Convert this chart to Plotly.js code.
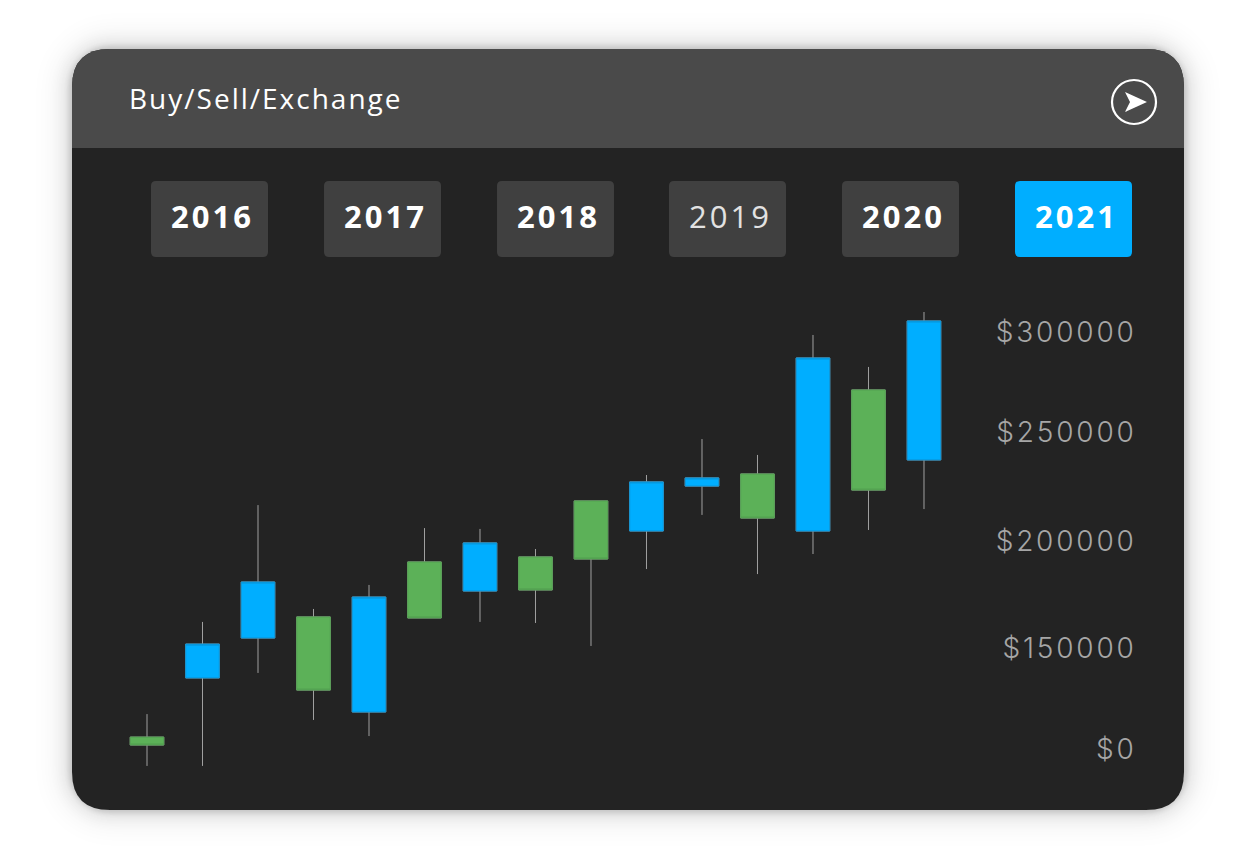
<!DOCTYPE html>
<html>
<head>
<meta charset="utf-8">
<script src="https://cdn.plot.ly/plotly-3.0.1.min.js"></script>
<style>
html,body{margin:0;padding:0;background:#fff;overflow:hidden}
#shadow{position:absolute;left:72px;top:49px;width:1112px;height:761px;border-radius:38px;
  box-shadow:0 0 5px 3px rgba(0,0,0,.12),0 0 16px 7px rgba(0,0,0,.09),0 0 26px 18px rgba(0,0,0,.05)}
#chart{position:absolute;left:0;top:0;width:1257px;height:860px}
.ytick text{letter-spacing:2.8px}
</style>
</head>
<body>
<div id="shadow"></div>
<div id="chart"></div>
<script>
var headerTitle = "Buy/Sell/Exchange";
var years = ["2016","2017","2018","2019","2020","2021"];
var activeYear = "2021";
var plainYear = "2019";

var periods = [0,1,2,3,4,5,6,7,8,9,10,11,12,13,14];
var openValues  = [105700,134000,153100,163200,117700,189500,175600,191900,218700,204300,225800,231600,204300,271800,238300];
var closeValues = [101900,150200,179900,128200,172700,162700,198600,176100,190900,227800,229700,210500,287100,223900,304800];
var highValues  = [116700,160800,216700,167000,178500,205700,205300,195700,218700,231100,248300,240700,298100,282800,309100];
var lowValues   = [ 91900, 91900,136400,113900,106200,162700,160800,160300,149300,186100,212000,183700,193300,204800,214800];

var tickValues = [299500,251500,199500,148000,100000];
var tickLabels = ["$300000","$250000","$200000","$150000","$0"];

var W = 1257, H = 860;
function fx(p){return (p/W).toFixed(5);}
function fy(p){return (1-p/H).toFixed(5);}
function rr(x0,y0,x1,y1,tl,tr,br,bl){
  return "M "+fx(x0+tl)+" "+fy(y0)+" L "+fx(x1-tr)+" "+fy(y0)+" Q "+fx(x1)+" "+fy(y0)+" "+fx(x1)+" "+fy(y0+tr)+
    " L "+fx(x1)+" "+fy(y1-br)+" Q "+fx(x1)+" "+fy(y1)+" "+fx(x1-br)+" "+fy(y1)+
    " L "+fx(x0+bl)+" "+fy(y1)+" Q "+fx(x0)+" "+fy(y1)+" "+fx(x0)+" "+fy(y1-bl)+
    " L "+fx(x0)+" "+fy(y0+tl)+" Q "+fx(x0)+" "+fy(y0)+" "+fx(x0+tl)+" "+fy(y0)+" Z";
}
function panel(path,color,lineColor){
  return {type:"path",xref:"paper",yref:"paper",layer:"below",path:path,fillcolor:color,
    line:{width:lineColor?1:0,color:lineColor||color}};
}
var shapes = [
  panel(rr(72,49,1184,810,38,38,38,38),"#232323"),
  panel(rr(72,49,1184,148,38,38,0,0),"#4a4a4a")
];
var annotations = [{
  xref:"paper",yref:"paper",x:127/W,y:1-98/H,xanchor:"left",yanchor:"middle",showarrow:false,
  text:'<span style="letter-spacing:2px">'+headerTitle+'</span>',
  font:{family:"Open Sans",size:28,color:"#ffffff"}
}];
var buttonLefts = [151,324,497,669,842,1015];
years.forEach(function(y,i){
  var left = buttonLefts[i], active = y===activeYear, plain = y===plainYear;
  shapes.push(panel(rr(left,181,left+117,257,5,5,5,5),active?"#00aeff":"#404040"));
  annotations.push({
    xref:"paper",yref:"paper",x:(left+61.5)/W,y:1-216.5/H,xanchor:"center",yanchor:"middle",showarrow:false,
    text:'<span style="letter-spacing:3px">'+y+'</span>',
    font:{family:"Open Sans",size:31,weight:plain?400:700,color:plain?"#e2e2e2":"#ffffff"}
  });
});
shapes.push({type:"circle",xref:"paper",yref:"paper",x0:fx(1112),x1:fx(1156),y0:fy(124),y1:fy(80),
  line:{color:"#ffffff",width:2.2},fillcolor:"rgba(0,0,0,0)",layer:"above"});
shapes.push({type:"path",xref:"paper",yref:"paper",layer:"above",
  path:"M "+fx(1125)+" "+fy(92)+" L "+fx(1147)+" "+fy(102)+" L "+fx(1125)+" "+fy(112)+" L "+fx(1130)+" "+fy(102)+" Z",
  fillcolor:"#ffffff",line:{width:0}});

var traceWicks = {
  type:"candlestick",name:"range",x:periods,open:openValues,close:closeValues,high:highValues,low:lowValues,
  whiskerwidth:0,hoverinfo:"skip",showlegend:false,
  increasing:{line:{color:"#a0a0a0",width:1},fillcolor:"#a0a0a0"},
  decreasing:{line:{color:"#a0a0a0",width:1},fillcolor:"#a0a0a0"}
};
var bodyHigh = openValues.map(function(o,i){return Math.max(o,closeValues[i]);});
var bodyLow  = openValues.map(function(o,i){return Math.min(o,closeValues[i]);});
var traceBodies = {
  type:"candlestick",name:"body",x:periods,open:openValues,close:closeValues,high:bodyHigh,low:bodyLow,
  whiskerwidth:0,hoverinfo:"skip",showlegend:false,
  increasing:{line:{color:"#0a92d4",width:1},fillcolor:"#00aeff"},
  decreasing:{line:{color:"#529f50",width:1},fillcolor:"#5cb158"}
};

var layout = {
  width:W,height:H,margin:{l:0,r:0,t:0,b:0},
  paper_bgcolor:"rgba(0,0,0,0)",plot_bgcolor:"rgba(0,0,0,0)",
  showlegend:false,dragmode:false,hovermode:false,
  boxmode:"overlay",boxgap:0.395,boxgroupgap:0,
  xaxis:{domain:[72/W,1139.6/W],range:[-1.3514,17.885],type:"linear",
    showgrid:false,zeroline:false,showline:false,showticklabels:false,ticks:"",
    rangeslider:{visible:false},fixedrange:true},
  yaxis:{domain:[1-800/H,1-290/H],range:[75600,319620],side:"right",
    ticklabelposition:"inside",tickmode:"array",tickvals:tickValues,ticktext:tickLabels,
    showgrid:false,zeroline:false,showline:false,ticks:"",fixedrange:true,
    tickfont:{family:"Inter",size:28,weight:300,color:"#a6a6a6"}},
  shapes:shapes,annotations:annotations
};
Plotly.newPlot("chart",[traceWicks,traceBodies],layout,{displayModeBar:false,staticPlot:true});
</script>
</body>
</html>
